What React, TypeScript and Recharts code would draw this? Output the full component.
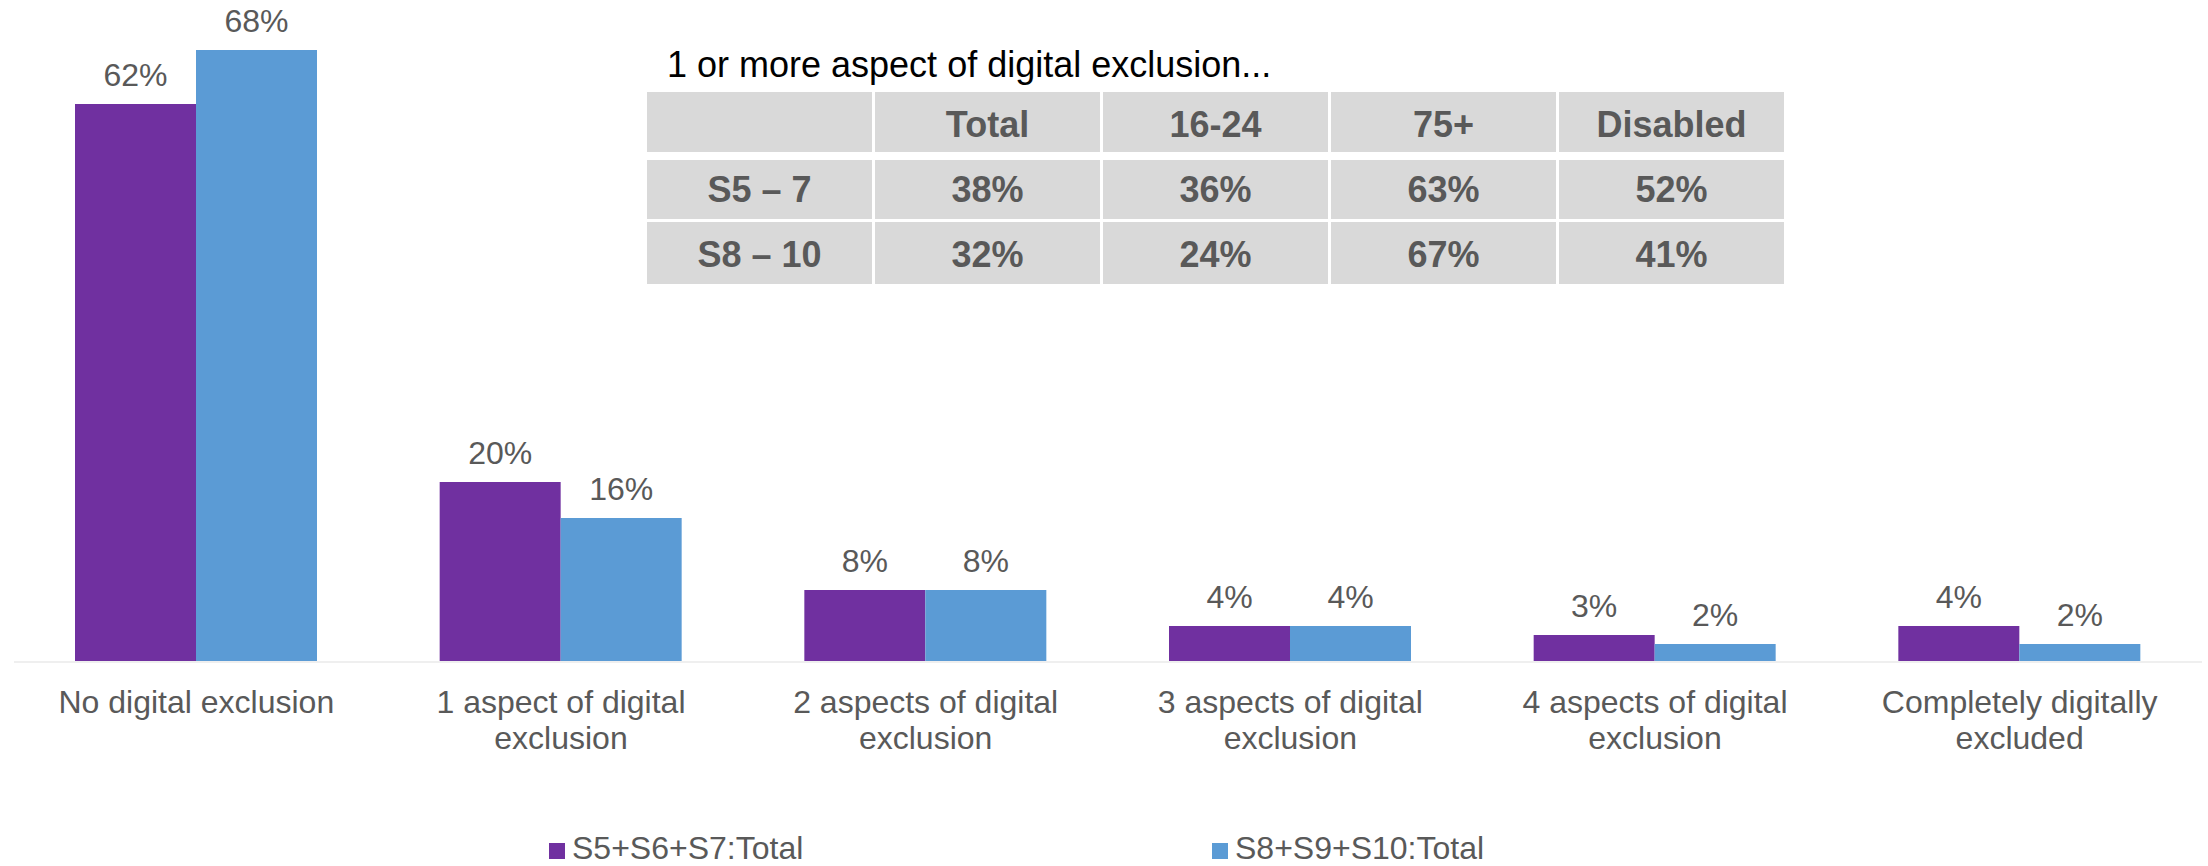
import { BarChart, Bar, XAxis, YAxis, Legend, LabelList } from 'recharts';

const FONT = '"Liberation Sans", Arial, sans-serif';
const GREY = '#595959';
const PURPLE = '#7030A0';
const BLUE = '#5B9BD5';

// chart data
const categories = [
  'No digital exclusion',
  '1 aspect of digital exclusion',
  '2 aspects of digital exclusion',
  '3 aspects of digital exclusion',
  '4 aspects of digital exclusion',
  'Completely digitally excluded',
];
const s5to7 = [62, 20, 8, 4, 3, 4];
const s8to10 = [68, 16, 8, 4, 2, 2];
const seriesNames = ['S5+S6+S7:Total', 'S8+S9+S10:Total'];

// inset table
const tableTitle = '1 or more aspect of digital exclusion...';
const tableCols = ['Total', '16-24', '75+', 'Disabled'];
const tableRows = ['S5 – 7', 'S8 – 10'];
const tableS5to7 = [38, 36, 63, 52];
const tableS8to10 = [32, 24, 67, 41];

const data = categories.map((name, i) => ({ name, s5: s5to7[i], s8: s8to10[i] }));

let ctx: CanvasRenderingContext2D | null = null;
function measure(s: string) {
  if (!ctx) {
    ctx = document.createElement('canvas').getContext('2d');
    if (ctx) ctx.font = '32px "Liberation Sans", Arial, sans-serif';
  }
  return ctx ? ctx.measureText(s).width : s.length * 16;
}

function wrap(label: string, maxW: number) {
  const lines: string[] = [];
  let cur = '';
  for (const w of label.split(' ')) {
    const next = cur ? cur + ' ' + w : w;
    if (cur && measure(next) > maxW) {
      lines.push(cur);
      cur = w;
    } else {
      cur = next;
    }
  }
  if (cur) lines.push(cur);
  return lines;
}

function CategoryTick(props: any) {
  const { x, y, payload } = props;
  const lines = wrap(String(payload.value), 310);
  return (
    <text x={x} y={y + 51} textAnchor="middle" fontSize={32} fill={GREY} fontFamily={FONT}>
      {lines.map((l, i) => (
        <tspan key={i} x={x} dy={i === 0 ? 0 : 36}>{l}</tspan>
      ))}
    </text>
  );
}

function ValueLabel(props: any) {
  const { x, y, width, value } = props;
  return (
    <text x={x + width / 2} y={y - 18} textAnchor="middle" fontSize={32} fill={GREY} fontFamily={FONT}>
      {value}%
    </text>
  );
}

function LegendContent() {
  const items = [
    { name: seriesNames[0], color: PURPLE, left: 549 },
    { name: seriesNames[1], color: BLUE, left: 1212 },
  ];
  return (
    <svg width={2208} height={54} style={{ display: 'block' }}>
      {items.map(it => (
        <g key={it.name}>
          <rect x={it.left} y={31} width={16} height={16} fill={it.color} />
          <text x={it.left + 23} y={47} fontSize={32} fill={GREY} fontFamily={FONT}>{it.name}</text>
        </g>
      ))}
    </svg>
  );
}

function InsetTable() {
  const colW = 225;
  const cell = (content: string, w: number, h: number, pt: number, key: string, ml: number) => (
    <div key={key} style={{
      width: w, height: h, marginLeft: ml, background: '#D9D9D9', boxSizing: 'border-box', paddingTop: pt,
      display: 'flex', alignItems: 'center', justifyContent: 'center',
      fontSize: 36, fontWeight: 700, color: GREY, fontFamily: FONT,
    }}>{content}</div>
  );
  const rows = [
    { label: '', values: tableCols, h: 60, mt: 0, pt: 6 },
    { label: tableRows[0], values: tableS5to7.map(v => `${v}%`), h: 59, mt: 8, pt: 1 },
    { label: tableRows[1], values: tableS8to10.map(v => `${v}%`), h: 62, mt: 3, pt: 4 },
  ];
  return (
    <>
      <div style={{
        position: 'absolute', left: 667, top: 45, fontSize: 36, color: '#000',
        fontFamily: FONT, lineHeight: '40px', whiteSpace: 'nowrap',
      }}>{tableTitle}</div>
      <div style={{ position: 'absolute', left: 647, top: 92 }}>
        {rows.map((r, ri) => (
          <div key={ri} style={{ display: 'flex', marginTop: r.mt }}>
            {cell(r.label, colW, r.h, r.pt, 'l', 0)}
            {r.values.map((v, ci) => cell(v, colW, r.h, r.pt, String(ci), 3))}
          </div>
        ))}
      </div>
    </>
  );
}

export default function App() {
  return (
    <div style={{ position: 'absolute', left: 0, top: 0, width: 2208, height: 866, background: '#FFFFFF', fontFamily: FONT }}>
      <BarChart
        width={2208} height={866} data={data}
        margin={{ top: 32, right: 6, left: 14, bottom: 0 }}
        barCategoryGap={61} barGap={0}
      >
        <XAxis
          dataKey="name" height={150} interval={0}
          tickLine={false} tickSize={0} tickMargin={0}
          axisLine={{ stroke: '#EFEFEF', strokeWidth: 2 }}
          tick={<CategoryTick />}
        />
        <YAxis hide domain={[0, 70]} />
        <Legend verticalAlign="bottom" height={54} content={<LegendContent />} wrapperStyle={{ left: 0, width: 2208 }} />
        <Bar dataKey="s5" name={seriesNames[0]} fill={PURPLE} isAnimationActive={false}>
          <LabelList dataKey="s5" content={<ValueLabel />} />
        </Bar>
        <Bar dataKey="s8" name={seriesNames[1]} fill={BLUE} isAnimationActive={false}>
          <LabelList dataKey="s8" content={<ValueLabel />} />
        </Bar>
      </BarChart>
      <InsetTable />
    </div>
  );
}
